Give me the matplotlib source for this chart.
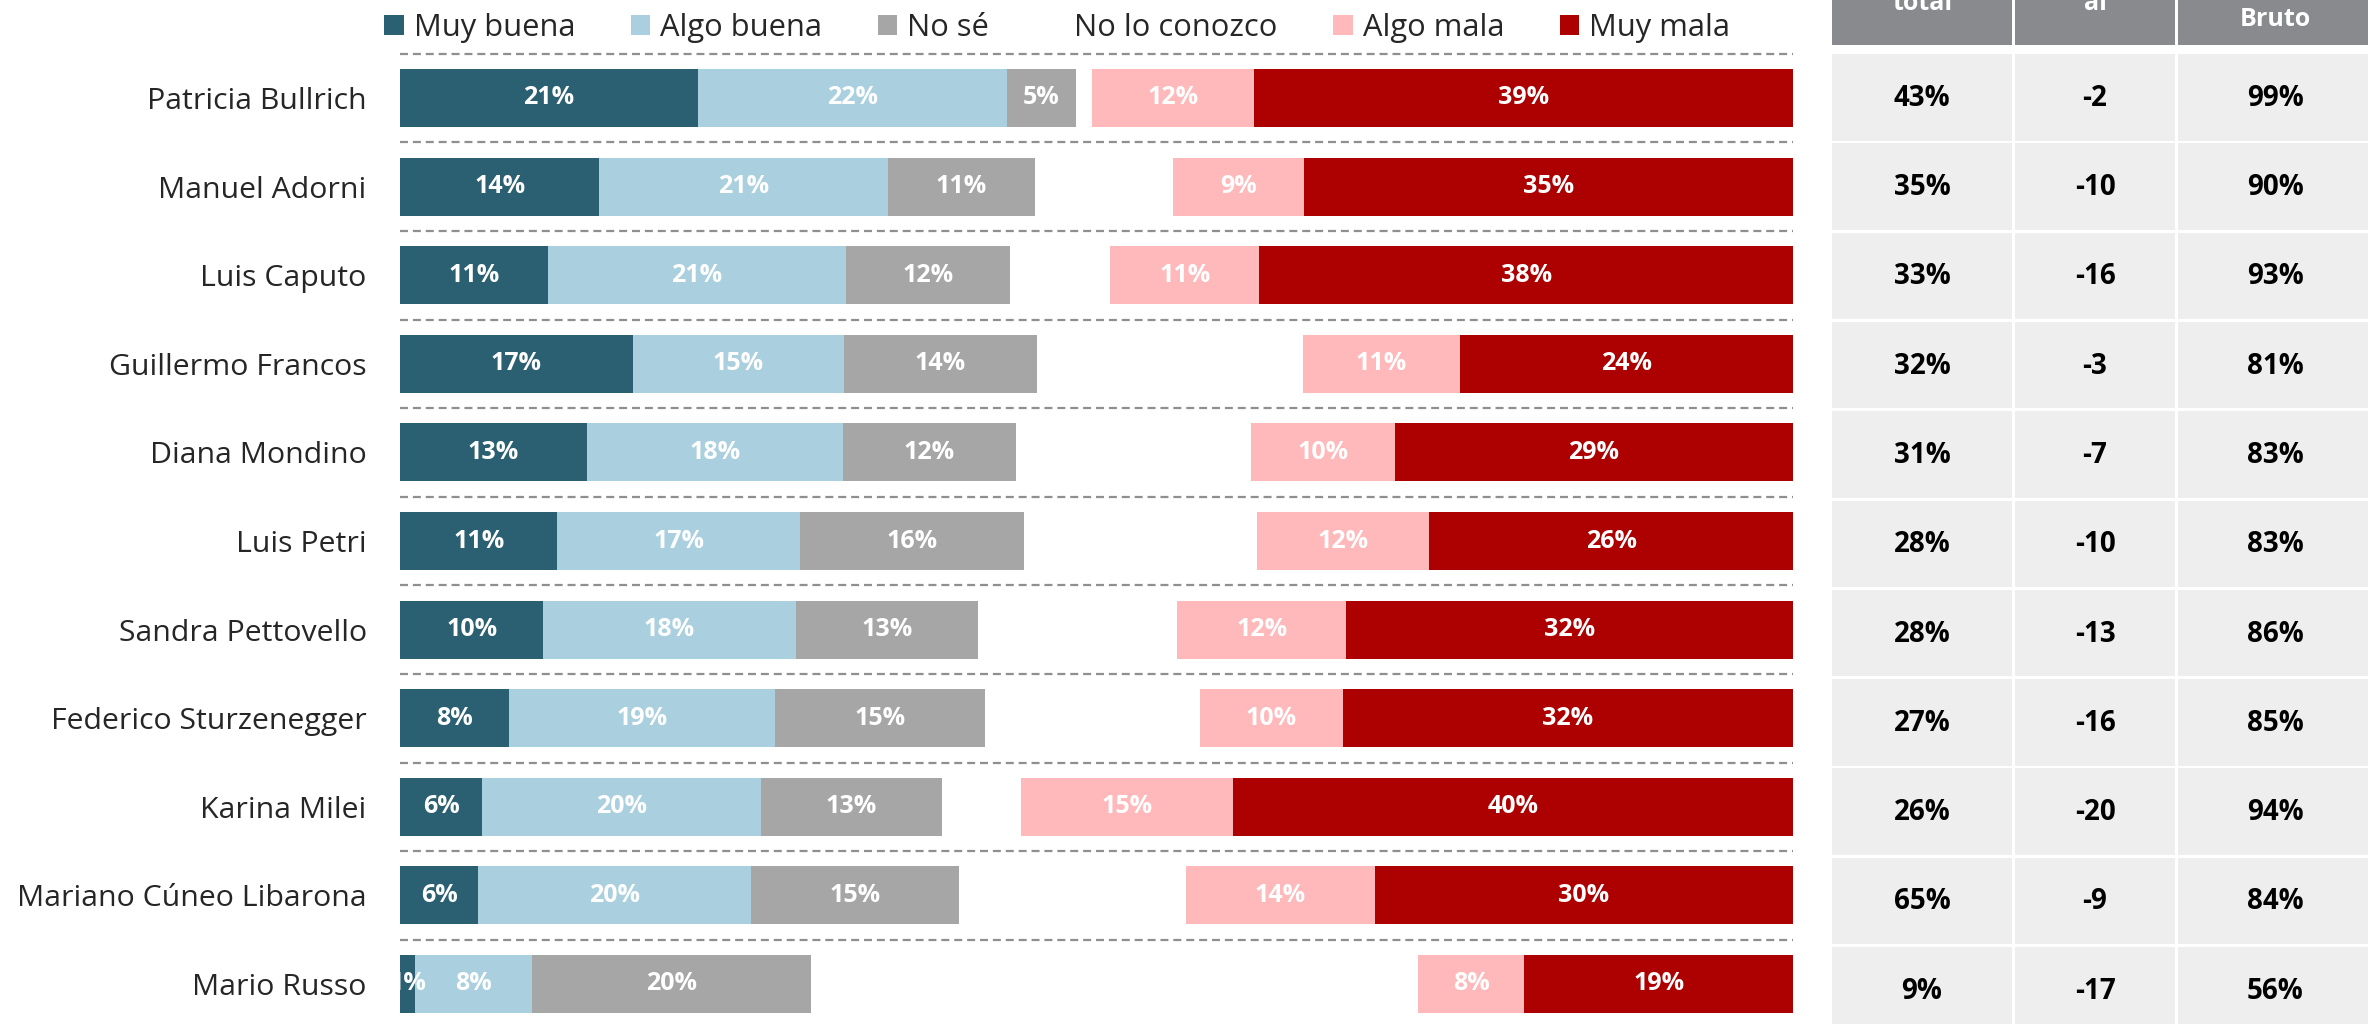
import matplotlib
matplotlib.use("Agg")
import numpy as np
import matplotlib.pyplot as plt
from matplotlib.patches import Patch, Rectangle

# ---------------- data ----------------
names = ["Patricia Bullrich", "Manuel Adorni", "Luis Caputo", "Guillermo Francos",
         "Diana Mondino", "Luis Petri", "Sandra Pettovello", "Federico Sturzenegger",
         "Karina Milei", "Mariano Cúneo Libarona", "Mario Russo"]
muy_buena = [21.4, 14.3, 10.6, 16.7, 13.4, 11.3, 10.3, 7.8, 5.9, 5.6, 1.1]
algo_buena = [22.2, 20.7, 21.4, 15.2, 18.4, 17.4, 18.1, 19.1, 20.0, 19.6, 8.4]
no_se = [4.9, 10.6, 11.8, 13.8, 12.4, 16.1, 13.1, 15.1, 13.0, 14.9, 20.0]
algo_mala = [11.6, 9.4, 10.7, 11.3, 10.3, 12.4, 12.1, 10.3, 15.2, 13.6, 7.6]
muy_mala = [38.7, 35.1, 38.3, 23.9, 28.6, 26.1, 32.1, 32.3, 40.2, 30.0, 19.3]

imagen_total = ["43%", "35%", "33%", "32%", "31%", "28%", "28%", "27%", "26%", "65%", "9%"]
diferencial = ["-2", "-10", "-16", "-3", "-7", "-10", "-13", "-16", "-20", "-9", "-17"]
conocimiento = ["99%", "90%", "93%", "81%", "83%", "83%", "86%", "85%", "94%", "84%", "56%"]
table_headers = ["total", "al", "Bruto"]

legend_labels = ["Muy buena", "Algo buena", "No sé", "No lo conozco", "Algo mala", "Muy mala"]

# ---------------- style ----------------
C_MB = "#2b6072"
C_AB = "#aad0df"
C_NS = "#a6a6a6"
C_AM = "#ffb9bb"
C_MM = "#ad0000"
C_HEAD = "#888a8d"
C_CELL = "#edeeed"
FONT = "Open Sans"
plt.rcParams["font.family"] = [FONT, "DejaVu Sans"]

W, H = 2368, 1024
fig = plt.figure(figsize=(W / 100, H / 100), dpi=100)

# ---------------- bars ----------------
ax = fig.add_axes([400 / W, 0, 1393 / W, 1])
n = len(names)
y = np.arange(n)
row_px = 88.6
top = -98 / row_px
ax.set_xlim(0, 100)
ax.set_ylim(top + H / row_px, top)
bh = 0.655

def label_segments(lefts, vals):
    for yi, l, v in zip(y, lefts, vals):
        ax.text(l + v / 2, yi, f"{v:.0f}%", ha="center", va="center",
                color="white", fontsize=18, fontweight="bold", clip_on=True)

left = np.zeros(n)
for vals, col in [(muy_buena, C_MB), (algo_buena, C_AB), (no_se, C_NS)]:
    vals = np.array(vals)
    ax.barh(y, vals, left=left, height=bh, color=col, edgecolor="none")
    label_segments(left, vals)
    left = left + vals

mm = np.array(muy_mala)
am = np.array(algo_mala)
left_mm = 100 - mm
left_am = left_mm - am
ax.barh(y, am, left=left_am, height=bh, color=C_AM, edgecolor="none")
label_segments(left_am, am)
ax.barh(y, mm, left=left_mm, height=bh, color=C_MM, edgecolor="none")
label_segments(left_mm, mm)

for k in range(n + 1):
    ax.axhline(k - 0.5, color="#8f8f8f", lw=1.6, linestyle=(0, (3.6, 2.2)), zorder=0)

ax.set_yticks(y, names)
ax.tick_params(axis="y", length=0, pad=24, labelsize=21.8, labelcolor="#262626")
ax.set_xticks([])
for s in ax.spines.values():
    s.set_visible(False)

# ---------------- legend ----------------
handles = [Patch(facecolor=c, edgecolor="none") for c in [C_MB, C_AB, C_NS, "white", C_AM, C_MM]]
fig.legend(handles, legend_labels, ncol=6, loc="center left",
           bbox_to_anchor=(384 / W, 1 - 28 / H), frameon=False, fontsize=22.2,
           handlelength=0.64, handleheight=0.64, handletextpad=0.32,
           columnspacing=1.8, borderpad=0, borderaxespad=0,
           labelcolor="#262626")

# ---------------- table ----------------
tx0 = 1832
tax = fig.add_axes([tx0 / W, 0, (W - tx0) / W, 1])
tax.set_xlim(0, W - tx0)
tax.set_ylim(H, 0)
tax.axis("off")
col_left = [0, 183, 346]
col_w = [180, 160, 194]
head_bottom = 44.5
cell_top0 = 54
cell_step = 89.3
cell_h = 86.5
head_base = [10, 10, 26]
columns = [imagen_total, diferencial, conocimiento]
for ci in range(3):
    cx = col_left[ci] + col_w[ci] / 2
    tax.add_patch(Rectangle((col_left[ci], -20), col_w[ci], head_bottom + 20,
                            facecolor=C_HEAD, edgecolor="none"))
    tax.text(cx, head_base[ci], table_headers[ci], ha="center", va="baseline",
             color="white", fontsize=18, fontweight="bold")
    for ri, val in enumerate(columns[ci]):
        t = cell_top0 + ri * cell_step
        tax.add_patch(Rectangle((col_left[ci], t), col_w[ci], cell_h,
                                facecolor=C_CELL, edgecolor="none"))
        tax.text(cx, t + cell_h / 2 + 1, val, ha="center", va="center",
                 color="black", fontsize=20, fontweight="bold")

fig.savefig("out.png", dpi=100)
